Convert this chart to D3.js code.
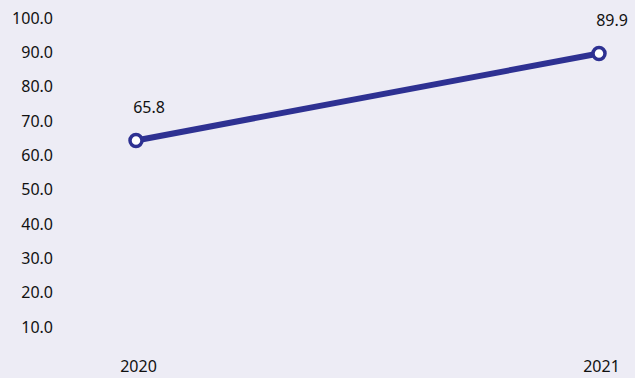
<!DOCTYPE html>
<html>
<head>
<meta charset="UTF-8">
<script src="https://cdn.jsdelivr.net/npm/d3@7"></script>
<style>
body{margin:0;background:#edecf5;}
text{font-family:"Noto Sans",sans-serif;fill:#111;}
</style>
</head>
<body>
<script>
var years = ["2020", "2021"];
var values = [65.8, 89.9];
var yTicks = [10, 20, 30, 40, 50, 60, 70, 80, 90, 100];

var Width = 635, Height = 378;
var svg = d3.select("body").append("svg")
    .attr("width", Width)
    .attr("height", Height);

svg.append("rect").attr("width", Width).attr("height", Height).attr("fill", "#edecf5");

var x = d3.scalePoint().domain(years).range([136, 599]);
// data scale
var y = d3.scaleLinear().domain([0, 100]).range([378, 17]);
// tick label positions
var yAxisScale = d3.scaleLinear().domain([10, 100]).range([327, 18]);

var yAxis = d3.axisLeft(yAxisScale).tickValues(yTicks).tickSize(0).tickPadding(0)
    .tickFormat(function(d){ return d3.format(".1f")(d); });
var gy = svg.append("g").attr("transform", "translate(53,0)").call(yAxis);
gy.select(".domain").remove();
gy.selectAll("text").style("font-size", "16px").attr("fill", "#111");

var xAxis = d3.axisBottom(x).tickSize(0).tickPadding(0);
var gx = svg.append("g").attr("transform", "translate(2,361)").call(xAxis);
gx.select(".domain").remove();
gx.selectAll("text").style("font-size", "16px").attr("fill", "#111");

var line = d3.line()
    .x(function(d, i){ return x(years[i]); })
    .y(function(d){ return y(d); });

svg.append("path")
    .datum(values)
    .attr("d", line)
    .attr("fill", "none")
    .attr("stroke", "#2e3192")
    .attr("stroke-width", 6);

svg.selectAll("circle.pt")
    .data(values)
    .enter()
    .append("circle")
    .attr("class", "pt")
    .attr("cx", function(d, i){ return x(years[i]); })
    .attr("cy", function(d){ return y(d); })
    .attr("r", 6)
    .attr("fill", "#fff")
    .attr("stroke", "#2e3192")
    .attr("stroke-width", 3.5);

svg.selectAll("text.val")
    .data(values)
    .enter()
    .append("text")
    .attr("class", "val")
    .attr("x", function(d, i){ return x(years[i]) + 13; })
    .attr("y", function(d){ return y(d) - 27; })
    .attr("text-anchor", "middle")
    .style("font-size", "16px")
    .text(function(d){ return d3.format(".1f")(d); });
</script>
</body>
</html>
